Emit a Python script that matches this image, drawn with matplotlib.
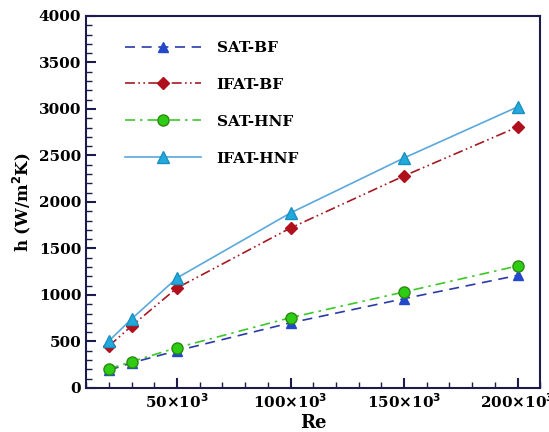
import matplotlib
matplotlib.use('Agg')
import matplotlib.pyplot as plt
from matplotlib.ticker import MultipleLocator, FuncFormatter

# Data
re = [20000, 30000, 50000, 100000, 150000, 200000]
sat_bf = [190, 270, 400, 700, 960, 1210]
ifat_bf = [450, 667, 1075, 1720, 2280, 2806]
sat_hnf = [204, 283, 433, 756, 1032, 1312]
ifat_hnf = [505, 742, 1183, 1882, 2473, 3022]

plt.rcParams['font.family'] = 'DejaVu Serif'
plt.rcParams['font.weight'] = 'bold'

fig = plt.figure(figsize=(5.49, 4.32), dpi=100)
ax = fig.add_axes([0.157, 0.102, 0.827, 0.861])

ax.plot(re, sat_bf, color='#2a3aa8', ls=(0, (6, 4)), lw=1.2, marker='^',
        ms=7, mfc='#2448cc', mec='#2448cc', label='SAT-BF')
ax.plot(re, ifat_bf, color='#a51a22', ls=(0, (6, 2, 1, 2, 1, 2)), lw=1.2, marker='D',
        ms=6.5, mfc='#b0101c', mec='#b0101c', label='IFAT-BF')
ax.plot(re, sat_hnf, color='#3cc828', ls=(0, (6, 3, 1.5, 3)), lw=1.2, marker='o',
        ms=8, mfc='#2fcc14', mec='#2a8a10', label='SAT-HNF')
ax.plot(re, ifat_hnf, color='#5aa8dc', ls='-', lw=1.2, marker='^',
        ms=8, mfc='#22aadd', mec='#1a90c0', label='IFAT-HNF')

ax.set_xlim(10000, 210000)
ax.set_ylim(0, 4000)
ax.xaxis.set_major_locator(MultipleLocator(50000))
ax.xaxis.set_minor_locator(MultipleLocator(10000))
ax.yaxis.set_major_locator(MultipleLocator(500))
ax.yaxis.set_minor_locator(MultipleLocator(100))
ax.xaxis.set_major_formatter(FuncFormatter(lambda v, p: r'%d$\times$10$^{3}$' % (v / 1000)))

navy = '#1c1c4c'
for s in ax.spines.values():
    s.set_color(navy)
    s.set_linewidth(1.5)
ax.tick_params(which='both', direction='in', top=False, right=False, color=navy,
               labelsize=11, width=1.0)
ax.tick_params(which='major', length=7, width=1.5)
ax.tick_params(which='minor', length=4)
for lbl in ax.get_xticklabels() + ax.get_yticklabels():
    lbl.set_fontweight('bold')

ax.set_xlabel('Re', fontsize=13, fontweight='bold', labelpad=2)
ax.set_ylabel(r'h (W/m$^\mathbf{2}$K)', fontsize=12, fontweight='bold')

ax.legend(loc='upper left', bbox_to_anchor=(0.055, 0.97), frameon=False,
          handlelength=5, labelspacing=1.5, handletextpad=1.0,
          prop={'weight': 'bold', 'size': 11})

plt.savefig('out.png', dpi=100)
